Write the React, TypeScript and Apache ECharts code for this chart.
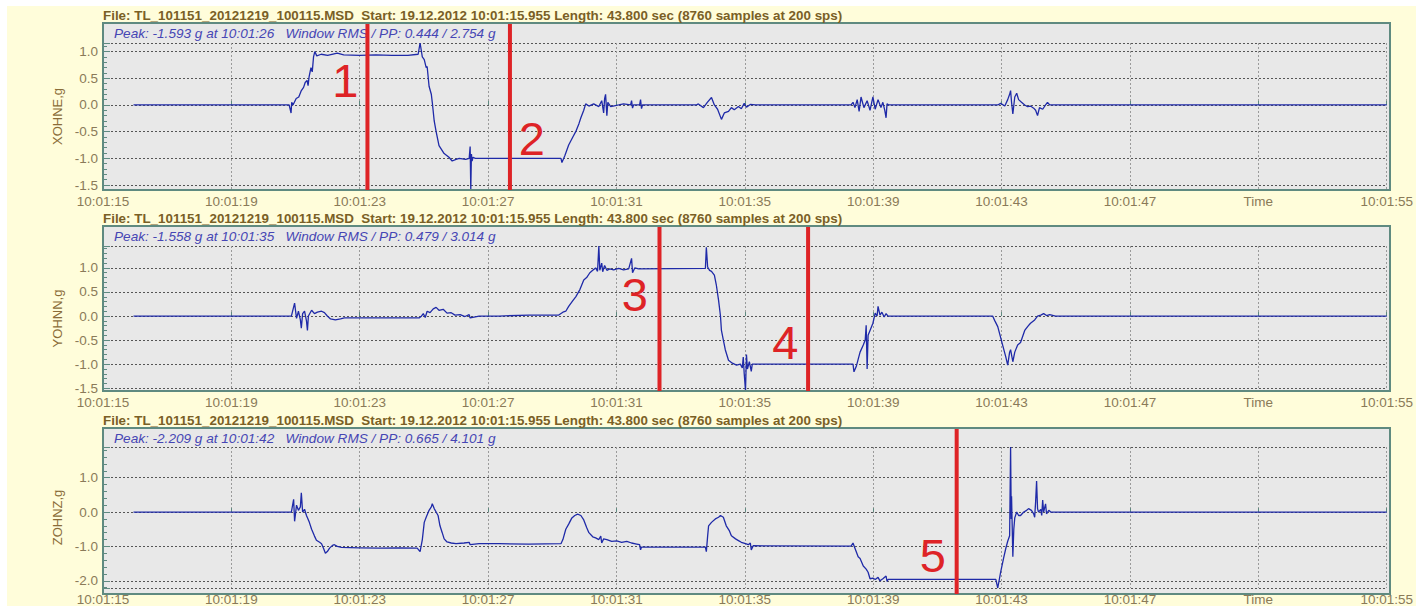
import React, { useEffect, useRef } from "react";
import * as echarts from "echarts";

// ---------- data ----------
const headerText =
  "File: TL_101151_20121219_100115.MSD  Start: 19.12.2012 10:01:15.955 Length: 43.800 sec (8760 samples at 200 sps)";

const channelNames = ["XOHNE,g", "YOHNN,g", "ZOHNZ,g"];
const peakTexts = [
  "Peak: -1.593 g at 10:01:26   Window RMS / PP: 0.444 / 2.754 g",
  "Peak: -1.558 g at 10:01:35   Window RMS / PP: 0.479 / 3.014 g",
  "Peak: -2.209 g at 10:01:42   Window RMS / PP: 0.665 / 4.101 g",
];
const peakValues = [-1.593, -1.558, -2.209];
const ppValues = [2.754, 3.014, 4.101];
const yStep = [0.5, 0.5, 1.0];

// seconds after 10:01:15, ticks every 4 s
const xTickLabels = [
  "10:01:15", "10:01:19", "10:01:23", "10:01:27", "10:01:31", "10:01:35",
  "10:01:39", "10:01:43", "10:01:47", "Time", "10:01:55",
];

const xohne: [number, number][] = [
  [0.95, 0], [5.8, 0], [5.86, -0.15], [5.88, 0.05], [5.92, 0],
  [6.02, 0.12], [6.1, 0.15], [6.18, 0.27], [6.25, 0.33], [6.3, 0.42], [6.36, 0.46],
  [6.39, 0.36], [6.42, 0.52], [6.48, 0.7], [6.52, 0.62], [6.56, 0.9], [6.6, 1.0],
  [6.66, 0.92], [6.8, 0.95], [7.0, 0.93], [7.3, 0.97], [7.5, 0.94], [8.0, 0.93],
  [8.5, 0.94], [9.0, 0.93], [9.5, 0.93], [9.82, 0.95], [9.88, 1.161], [9.95, 0.9],
  [10.01, 0.85], [10.07, 0.7], [10.1, 0.72], [10.16, 0.35], [10.23, 0.2], [10.26, 0.05],
  [10.32, -0.3], [10.38, -0.5], [10.47, -0.76], [10.63, -0.91], [10.72, -0.95],
  [10.78, -0.98], [10.88, -1.05], [11.0, -1.02], [11.1, -1.0], [11.3, -1.02],
  [11.41, -1.0], [11.44, -0.78], [11.46, -1.593], [11.48, -0.92], [11.5, -1.05],
  [11.53, -0.98], [11.6, -1.0], [14.27, -1.0], [14.3, -1.08], [14.39, -0.95],
  [14.51, -0.75], [14.64, -0.6], [14.73, -0.5], [14.83, -0.35], [14.89, -0.24],
  [14.98, -0.1], [15.04, 0.02], [15.14, -0.02], [15.29, 0.02], [15.45, -0.03],
  [15.54, 0.08], [15.6, -0.15], [15.63, 0.12], [15.66, 0.2], [15.7, -0.2], [15.73, 0.05],
  [15.82, -0.03], [16.07, 0], [16.22, 0.02], [16.44, 0], [16.47, 0.08], [16.5, -0.06],
  [16.53, 0], [16.72, 0], [16.75, 0.1], [16.78, -0.07], [16.81, 0], [18.49, 0],
  [18.55, 0.02], [18.71, -0.05], [18.83, 0.05], [18.96, 0.14], [19.05, 0], [19.15, -0.08],
  [19.27, -0.27], [19.36, -0.15], [19.49, -0.12], [19.58, -0.05], [19.67, -0.09],
  [19.8, -0.03], [19.89, -0.07], [19.98, 0.03], [20.05, -0.04], [20.17, 0.01], [20.33, 0],
  [23.31, 0], [23.37, 0.05], [23.43, -0.05], [23.5, 0.1], [23.56, -0.12], [23.62, 0.15],
  [23.71, -0.05], [23.81, 0.08], [23.9, -0.1], [23.99, 0.15], [24.06, -0.08], [24.15, 0.1],
  [24.24, -0.05], [24.3, 0.05], [24.36, -0.1], [24.4, -0.24], [24.43, 0.02], [24.49, 0],
  [27.88, 0], [27.97, 0.03], [28.1, -0.02], [28.19, 0.1], [28.25, 0.2], [28.28, 0.27],
  [28.31, 0.05], [28.35, -0.17], [28.41, 0.15], [28.47, 0.22], [28.53, 0.1], [28.62, 0.05],
  [28.72, 0], [28.81, -0.03], [28.9, -0.02], [29.0, -0.06], [29.06, -0.1], [29.12, -0.2],
  [29.18, -0.05], [29.28, -0.08], [29.37, 0], [29.43, 0.05], [29.5, 0], [40, 0],
];

const yohnn: [number, number][] = [
  [0.95, 0], [5.87, 0], [5.97, 0.27], [6.03, -0.05], [6.09, 0.1], [6.15, -0.08],
  [6.18, -0.25], [6.22, 0.05], [6.28, 0.1], [6.34, -0.1], [6.37, -0.3], [6.4, 0],
  [6.5, 0.12], [6.59, 0.05], [6.68, 0.08], [6.81, 0.1], [6.9, 0.07], [6.99, 0],
  [7.09, -0.06], [7.24, -0.08], [7.4, -0.06], [7.52, -0.04], [9.85, -0.04],
  [9.91, -0.01], [9.98, 0.05], [10.04, -0.03], [10.1, 0.1], [10.19, 0.07], [10.29, 0.15],
  [10.38, 0.18], [10.47, 0.12], [10.6, 0.14], [10.72, 0.06], [10.85, 0.07], [10.97, 0.02],
  [11.13, 0.03], [11.28, -0.01], [11.41, 0.03], [11.44, -0.04], [11.72, 0], [12.34, 0],
  [13.27, 0.02], [14.2, 0.02], [14.33, 0.08], [14.42, 0.1], [14.51, 0.2], [14.64, 0.32],
  [14.73, 0.4], [14.86, 0.55], [14.98, 0.75], [15.07, 0.8], [15.17, 0.9], [15.26, 0.95],
  [15.35, 1.0], [15.41, 0.93], [15.45, 1.456], [15.48, 0.95], [15.54, 1.1], [15.57, 0.92],
  [15.63, 1.05], [15.7, 0.95], [15.79, 0.98], [15.91, 0.96], [16.07, 0.99], [16.22, 0.96],
  [16.38, 0.98], [16.47, 1.2], [16.5, 0.9], [16.57, 1.0], [16.69, 0.98], [18.77, 0.99],
  [18.8, 1.43], [18.84, 1.02], [18.9, 0.95], [18.96, 0.93], [19.05, 0.85], [19.11, 0.65],
  [19.18, 0.33], [19.24, 0], [19.27, -0.3], [19.33, -0.5], [19.39, -0.7], [19.49, -0.92],
  [19.61, -0.98], [19.74, -1.02], [19.86, -1.0], [19.92, -1.08], [19.95, -0.85],
  [19.98, -1.2], [20.02, -1.558], [20.05, -0.8], [20.08, -1.1], [20.14, -0.95],
  [20.2, -1.15], [20.23, -1.0], [23.37, -1.0], [23.4, -1.16], [23.47, -1.05], [23.53, -0.9],
  [23.59, -0.75], [23.69, -0.6], [23.75, -0.5], [23.78, -0.19], [23.81, -1.1], [23.84, -0.4],
  [23.9, -0.3], [23.99, -0.15], [24.06, 0.06], [24.12, 0], [24.15, 0.2], [24.21, 0.02],
  [24.27, 0.08], [24.34, -0.02], [24.4, 0.05], [24.46, 0], [27.72, 0], [27.79, -0.1],
  [27.88, -0.22], [28.03, -0.6], [28.13, -0.85], [28.19, -1.02], [28.25, -0.75],
  [28.28, -0.7], [28.35, -0.95], [28.41, -0.75], [28.5, -0.6], [28.59, -0.55],
  [28.72, -0.3], [28.81, -0.22], [28.9, -0.15], [29.03, -0.08], [29.12, 0], [29.22, 0.02],
  [29.31, 0.05], [29.4, 0.01], [29.5, 0.03], [29.68, 0], [40, 0],
];

const zohnz: [number, number][] = [
  [0.95, 0], [5.87, 0], [5.94, 0.37], [5.97, -0.27], [6.03, 0.2], [6.09, 0.05],
  [6.15, 0.15], [6.18, 0.56], [6.22, 0], [6.28, 0.08], [6.34, -0.1], [6.43, -0.3],
  [6.5, -0.5], [6.59, -0.7], [6.65, -0.82], [6.75, -0.88], [6.81, -0.92], [6.87, -1.05],
  [6.93, -1.2], [6.99, -1.15], [7.06, -1.05], [7.15, -0.97], [7.21, -0.95], [7.3, -1.0],
  [7.43, -1.03], [7.99, -1.04], [8.61, -1.05], [9.23, -1.04], [9.79, -1.05], [9.88, -1.15],
  [9.95, -0.8], [10.01, -0.3], [10.07, -0.15], [10.16, 0.05], [10.23, 0.15], [10.26, 0.24],
  [10.32, 0.1], [10.38, 0], [10.44, -0.1], [10.5, -0.4], [10.57, -0.6], [10.63, -0.78],
  [10.72, -0.87], [10.85, -0.9], [11.0, -0.92], [11.25, -0.9], [11.41, -0.88],
  [11.44, -0.95], [11.72, -0.92], [12.34, -0.92], [13.27, -0.93], [14.27, -0.92],
  [14.33, -0.8], [14.42, -0.5], [14.51, -0.35], [14.61, -0.17], [14.7, -0.1], [14.79, -0.06],
  [14.89, -0.1], [14.98, -0.23], [15.07, -0.45], [15.14, -0.6], [15.26, -0.72],
  [15.35, -0.75], [15.45, -0.8], [15.51, -0.7], [15.54, -0.9], [15.6, -0.78], [15.7, -0.8],
  [15.85, -0.85], [16.01, -0.84], [16.16, -0.88], [16.32, -0.85], [16.47, -0.9],
  [16.63, -0.93], [16.72, -0.95], [16.75, -1.1], [16.78, -1.02], [18.77, -1.02],
  [18.8, -1.15], [18.84, -0.7], [18.87, -0.4], [18.96, -0.3], [19.08, -0.2], [19.18, -0.15],
  [19.24, -0.1], [19.33, -0.15], [19.42, -0.4], [19.52, -0.55], [19.58, -0.69],
  [19.71, -0.78], [19.8, -0.83], [19.89, -0.88], [20.02, -0.92], [20.11, -0.95],
  [20.17, -0.9], [20.2, -1.1], [20.26, -0.98], [23.31, -0.99], [23.37, -0.9], [23.43, -1.05],
  [23.53, -1.3], [23.59, -1.35], [23.69, -1.57], [23.78, -1.66], [23.84, -1.75],
  [23.9, -1.94], [23.99, -1.92], [24.06, -1.96], [24.15, -1.9], [24.21, -2.0], [24.3, -1.94],
  [24.4, -1.86], [24.43, -2.02], [24.46, -1.96], [27.82, -1.96], [27.88, -2.209],
  [27.97, -1.75], [28.06, -1.35], [28.13, -1.06], [28.19, -0.85], [28.25, -0.69],
  [28.28, 1.892], [28.3, -0.2], [28.31, 0.46], [28.35, -1.3], [28.38, -0.5], [28.41, -0.17],
  [28.47, 0], [28.53, -0.1], [28.59, -0.1], [28.69, 0], [28.78, 0.05], [28.84, 0.1],
  [28.93, 0.05], [29.0, -0.05], [29.03, -0.15], [29.06, 0.3], [29.09, 0.9], [29.12, 0.1],
  [29.15, 0], [29.22, 0.08], [29.25, -0.1], [29.28, 0.35], [29.31, 0], [29.37, 0.24],
  [29.4, -0.05], [29.47, 0.05], [29.53, 0], [40, 0],
];

const channelData = [xohne, yohnn, zohnz];

// red cursor markers (panel index, time, label, label anchor in data units)
const markerPanels = [0, 0, 1, 1, 2];
const markerTimes = [8.24, 12.68, 17.34, 21.97, 26.6];
const markerLabels = ["1", "2", "3", "4", "5"];
const markerLabelTimes = [7.55, 13.36, 16.57, 21.26, 25.86];
const markerLabelValues = [0.46, -0.63, 0.44, -0.54, -1.25];

// ---------- layout / style ----------
const GRID_LEFT = 103;
const GRID_WIDTH = 1287;
const panels = [
  { frameTop: 23, top: 43, bottom: 190 },
  { frameTop: 226, top: 246, bottom: 391 },
  { frameTop: 428, top: 447, bottom: 594 },
];
const FONT = "Liberation Sans, Arial, sans-serif";
const BG = "#fffdda";
const PLOT_BG = "#e8e8e8";
const FRAME = "#5f8a80";
const HEADER_COLOR = "#7a5f26";
const TICK_COLOR = "#8a7a58";
const NAME_COLOR = "#8a6c38";
const PEAK_COLOR = "#4646b4";
const LINE_COLOR = "#1f2aa8";
const RED = "#de2326";

function buildOption() {
  return {
    animation: false,
    backgroundColor: BG,
    grid: panels.map((p) => ({
      left: GRID_LEFT,
      width: GRID_WIDTH,
      top: p.top,
      height: p.bottom - p.top,
      containLabel: false,
    })),
    xAxis: panels.map((_, i) => ({
      gridIndex: i,
      type: "value",
      min: 0,
      max: 40,
      interval: 4,
      axisLine: { show: false },
      axisTick: { show: true, inside: true, length: 4, lineStyle: { color: FRAME } },
      axisLabel: {
        color: TICK_COLOR,
        fontSize: 13.5,
        fontFamily: FONT,
        margin: 4,
        formatter: (v: number) => xTickLabels[Math.round(v / 4)] ?? "",
      },
      splitLine: { show: true, lineStyle: { color: "#9a9a9a", type: [2, 2], width: 1 } },
    })),
    yAxis: panels.map((_, i) => ({
      gridIndex: i,
      type: "value",
      min: peakValues[i],
      max: peakValues[i] + ppValues[i],
      splitNumber: 5,
      minInterval: yStep[i],
      maxInterval: yStep[i],
      name: channelNames[i],
      nameLocation: "middle",
      nameGap: 21,
      nameTextStyle: { color: NAME_COLOR, fontSize: 13, fontFamily: FONT },
      axisLine: { show: false },
      axisTick: { show: true, inside: true, length: 7, lineStyle: { color: FRAME } },
      minorTick: { show: true, splitNumber: 5, length: 4, lineStyle: { color: FRAME } },
      axisLabel: {
        color: TICK_COLOR,
        fontSize: 13.5,
        fontFamily: FONT,
        margin: 5,
        showMinLabel: false,
        showMaxLabel: false,
        padding: [0, 0, 10, 0],
        formatter: (v: number) => v.toFixed(1),
      },
      splitLine: { show: true, lineStyle: { color: "#555", type: [2, 2], width: 1 } },
    })),
    series: channelData.map((d, i) => ({
      type: "line",
      xAxisIndex: i,
      yAxisIndex: i,
      data: d,
      showSymbol: false,
      symbol: "none",
      clip: true,
      lineStyle: { color: LINE_COLOR, width: 1.3 },
      z: 3,
    })),
  };
}

function buildGraphics(chart: any) {
  const g: any[] = [];
  panels.forEach((p, i) => {
    g.push({
      type: "rect",
      z: -10,
      shape: { x: GRID_LEFT, y: p.frameTop, width: GRID_WIDTH, height: p.bottom - p.frameTop },
      style: { fill: PLOT_BG },
    });
    g.push({
      type: "rect",
      z: 8,
      shape: { x: GRID_LEFT, y: p.frameTop, width: GRID_WIDTH, height: p.bottom - p.frameTop },
      style: { fill: "none", stroke: FRAME, lineWidth: 2 },
    });
    g.push({
      type: "text",
      z: 8,
      x: GRID_LEFT,
      y: p.frameTop - 8,
      style: {
        text: headerText,
        fill: HEADER_COLOR,
        font: `bold 13.4px ${FONT}`,
        align: "left",
        verticalAlign: "middle",
      },
    });
    g.push({
      type: "text",
      z: 8,
      x: GRID_LEFT + 11,
      y: p.frameTop + 10,
      style: {
        text: peakTexts[i],
        fill: PEAK_COLOR,
        font: `italic 13.6px ${FONT}`,
        align: "left",
        verticalAlign: "middle",
      },
    });
  });
  markerTimes.forEach((t, k) => {
    const pi = markerPanels[k];
    const p = panels[pi];
    const pt = chart.convertToPixel({ gridIndex: pi }, [t, 0]);
    g.push({
      type: "line",
      z: 20,
      shape: { x1: pt[0], y1: p.frameTop + 1, x2: pt[0], y2: p.bottom },
      style: { stroke: RED, lineWidth: 4 },
    });
    const lp = chart.convertToPixel({ gridIndex: pi }, [markerLabelTimes[k], markerLabelValues[k]]);
    g.push({
      type: "text",
      z: 20,
      x: lp[0],
      y: lp[1],
      style: {
        text: markerLabels[k],
        fill: RED,
        font: `47px ${FONT}`,
        align: "center",
        verticalAlign: "middle",
      },
    });
  });
  // white page margin strips (top / left)
  g.push({ type: "rect", z: 30, shape: { x: 0, y: 0, width: 1416, height: 6 }, style: { fill: "#fff" } });
  g.push({ type: "rect", z: 30, shape: { x: 0, y: 0, width: 7, height: 606 }, style: { fill: "#fff" } });
  return g;
}

export default function App() {
  const ref = useRef<HTMLDivElement>(null);
  useEffect(() => {
    const chart = echarts.init(ref.current as HTMLDivElement, null, { renderer: "svg" });
    chart.setOption(buildOption() as any);
    chart.setOption({ graphic: buildGraphics(chart) } as any);
    return () => chart.dispose();
  }, []);
  return (
    <div
      ref={ref}
      style={{ position: "fixed", left: 0, top: 0, width: 1416, height: 606 }}
    />
  );
}
